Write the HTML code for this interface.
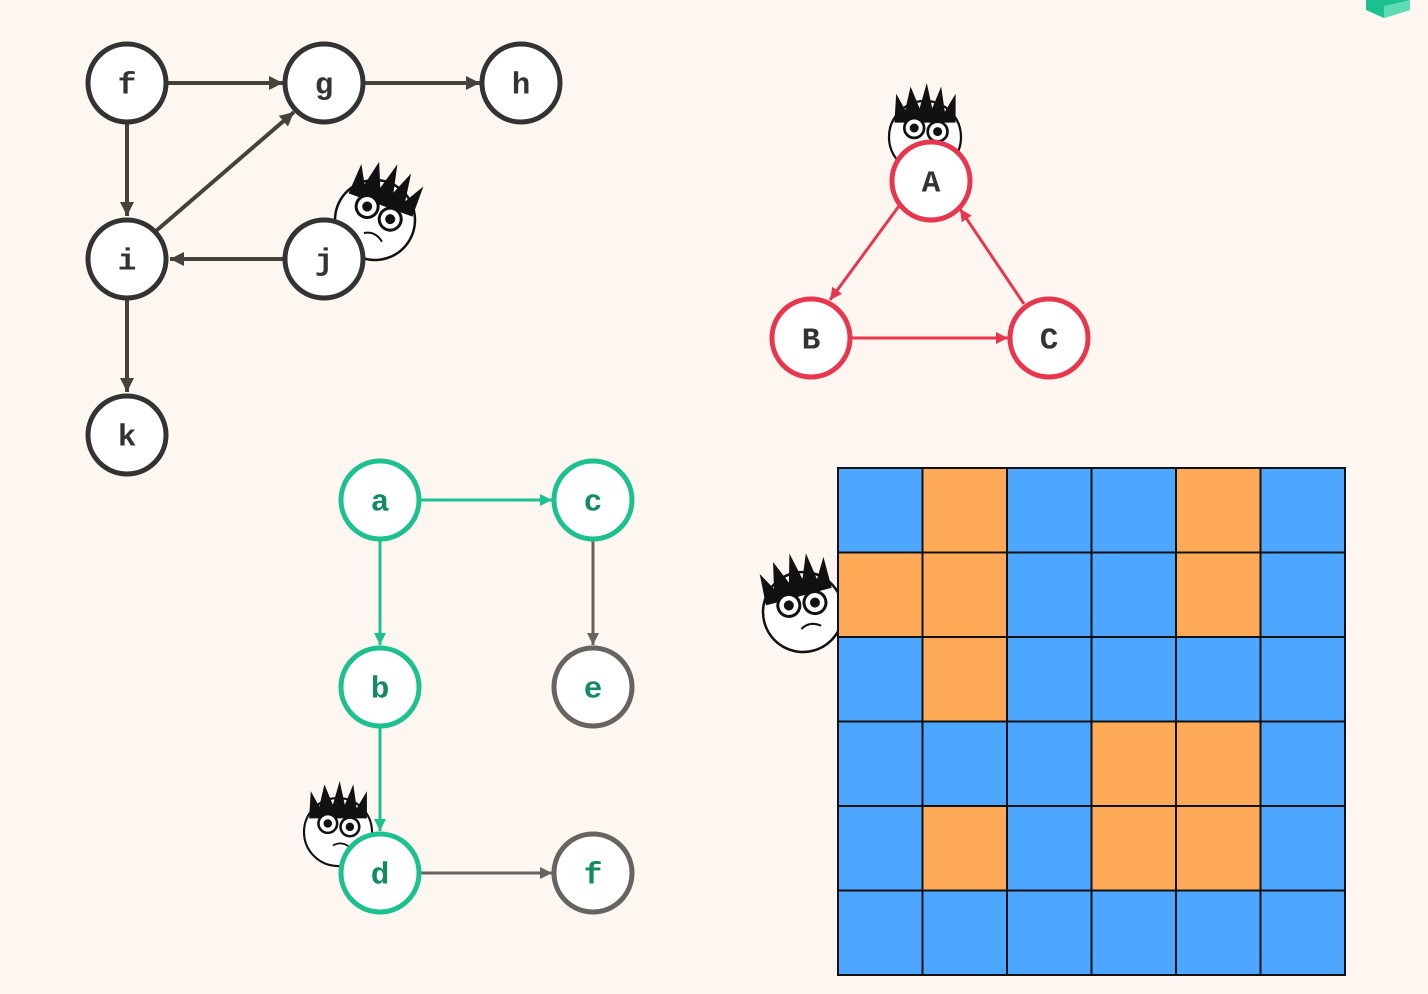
<!DOCTYPE html>
<html><head><meta charset="utf-8"><style>
html,body{margin:0;padding:0;background:#fdf6f1;}
svg{display:block}
text{font-family:"Liberation Mono",monospace;font-weight:bold;font-size:31px;text-anchor:middle;dominant-baseline:central}
</style></head><body>
<svg width="1428" height="994" viewBox="0 0 1428 994">
<rect width="1428" height="994" fill="#fdf6f1"/>
<defs>
<marker id="ad" markerWidth="16" markerHeight="14" refX="10" refY="5" orient="auto" markerUnits="userSpaceOnUse" viewBox="0 0 10 10"><path d="M0,0 L10,5 L0,10Z" fill="#45413c"/></marker>
<marker id="ar" markerWidth="14" markerHeight="12" refX="10" refY="5" orient="auto" markerUnits="userSpaceOnUse" viewBox="0 0 10 10"><path d="M0,0 L10,5 L0,10Z" fill="#e8364f"/></marker>
<marker id="ag" markerWidth="14" markerHeight="12" refX="10" refY="5" orient="auto" markerUnits="userSpaceOnUse" viewBox="0 0 10 10"><path d="M0,0 L10,5 L0,10Z" fill="#1cc18f"/></marker>
<marker id="ay" markerWidth="14" markerHeight="12" refX="10" refY="5" orient="auto" markerUnits="userSpaceOnUse" viewBox="0 0 10 10"><path d="M0,0 L10,5 L0,10Z" fill="#666360"/></marker>
<g id="face">
<circle cx="0" cy="0" r="40" fill="#fff" stroke="#111" stroke-width="2.5"/>
<path d="M-34,-16 L-32,-48 L-22,-30 L-16,-56 L-6,-32 L2,-60 L8,-32 L18,-56 L22,-28 L34,-48 L34,-16 Z" fill="#111"/>
<circle cx="-12" cy="-10" r="11" fill="#fff" stroke="#111" stroke-width="3"/>
<circle cx="14" cy="-6" r="11" fill="#fff" stroke="#111" stroke-width="3"/>
<circle cx="-12" cy="-10" r="5" fill="#111"/><circle cx="14" cy="-6" r="5" fill="#111"/>
<path d="M-6,16 Q4,10 14,18" fill="none" stroke="#111" stroke-width="2"/>
</g>
</defs>
<g fill="none" stroke="#45413c" stroke-width="4">
<line x1="168" y1="83" x2="283" y2="83" marker-end="url(#ad)"/>
<line x1="365" y1="83" x2="480" y2="83" marker-end="url(#ad)"/>
<line x1="127" y1="124" x2="127" y2="216" marker-end="url(#ad)"/>
<line x1="156" y1="231" x2="294" y2="112" marker-end="url(#ad)"/>
<line x1="283" y1="259" x2="170" y2="259" marker-end="url(#ad)"/>
<line x1="127" y1="300" x2="127" y2="392" marker-end="url(#ad)"/>
</g>
<use href="#face" transform="translate(375,220) rotate(20)"/>
<g stroke="#333" stroke-width="5" fill="#fff">
<circle cx="127" cy="83" r="39"/><circle cx="324" cy="83" r="39"/><circle cx="521" cy="83" r="39"/>
<circle cx="127" cy="259" r="39"/><circle cx="324" cy="259" r="39"/><circle cx="127" cy="435" r="39"/>
</g>
<g fill="#333"><text x="127" y="86">f</text><text x="324" y="86">g</text><text x="521" y="86">h</text><text x="127" y="262">i</text><text x="324" y="262">j</text><text x="127" y="438">k</text></g>

<use href="#face" transform="translate(925,137) scale(0.9)"/>
<g stroke="#e8364f" stroke-width="3" fill="none">
<line x1="899" y1="206" x2="830" y2="300" marker-end="url(#ar)"/>
<line x1="852" y1="338" x2="1008" y2="338" marker-end="url(#ar)"/>
<line x1="1024" y1="304" x2="960" y2="209" marker-end="url(#ar)"/>
</g>
<g stroke="#e8364f" stroke-width="5" fill="#fff">
<circle cx="931" cy="181" r="39"/><circle cx="811" cy="338" r="39"/><circle cx="1049" cy="338" r="39"/>
</g>
<g fill="#333"><text x="931" y="184">A</text><text x="811" y="341">B</text><text x="1049" y="341">C</text></g>

<use href="#face" transform="translate(803,612) rotate(-15)"/>
<g stroke="#111" stroke-width="2">
<rect x="838" y="468" width="507" height="507" fill="#4da6ff"/>
<g fill="#ffaa57">
<rect x="922.5" y="468" width="84.5" height="84.5"/><rect x="1176" y="468" width="84.5" height="84.5"/>
<rect x="838" y="552.5" width="84.5" height="84.5"/><rect x="922.5" y="552.5" width="84.5" height="84.5"/><rect x="1176" y="552.5" width="84.5" height="84.5"/>
<rect x="922.5" y="637" width="84.5" height="84.5"/>
<rect x="1091.5" y="721.5" width="84.5" height="84.5"/><rect x="1176" y="721.5" width="84.5" height="84.5"/>
<rect x="922.5" y="806" width="84.5" height="84.5"/><rect x="1091.5" y="806" width="84.5" height="84.5"/><rect x="1176" y="806" width="84.5" height="84.5"/>
</g>
<path d="M922.5,468V975M1007,468V975M1091.5,468V975M1176,468V975M1260.5,468V975M838,552.5H1345M838,637H1345M838,721.5H1345M838,806H1345M838,890.5H1345" fill="none"/>
</g>

<use href="#face" transform="translate(338,832) scale(0.85)"/>
<g stroke-width="3" fill="none">
<line x1="421" y1="500" x2="552" y2="500" stroke="#1cc18f" marker-end="url(#ag)"/>
<line x1="380" y1="541" x2="380" y2="645" stroke="#1cc18f" marker-end="url(#ag)"/>
<line x1="380" y1="728" x2="380" y2="831" stroke="#1cc18f" marker-end="url(#ag)"/>
<line x1="593" y1="541" x2="593" y2="645" stroke="#666360" marker-end="url(#ay)"/>
<line x1="421" y1="873" x2="552" y2="873" stroke="#666360" marker-end="url(#ay)"/>
</g>
<g stroke-width="5" fill="#fff">
<circle cx="380" cy="500" r="39" stroke="#1cc18f"/><circle cx="593" cy="500" r="39" stroke="#1cc18f"/>
<circle cx="380" cy="687" r="39" stroke="#1cc18f"/><circle cx="380" cy="873" r="39" stroke="#1cc18f"/>
<circle cx="593" cy="687" r="39" stroke="#666360"/><circle cx="593" cy="873" r="39" stroke="#666360"/>
</g>
<g fill="#138a66"><text x="380" y="503">a</text><text x="593" y="503">c</text><text x="380" y="690">b</text><text x="593" y="690">e</text><text x="380" y="876">d</text><text x="593" y="876">f</text></g>

<path d="M1366,0 L1410,0 L1410,10 L1384,18 L1366,10 Z" fill="#1cc18f"/>
<path d="M1384,18 L1410,10 L1410,0 L1384,6Z" fill="#5fdcb4"/>
</svg>
</body></html>
